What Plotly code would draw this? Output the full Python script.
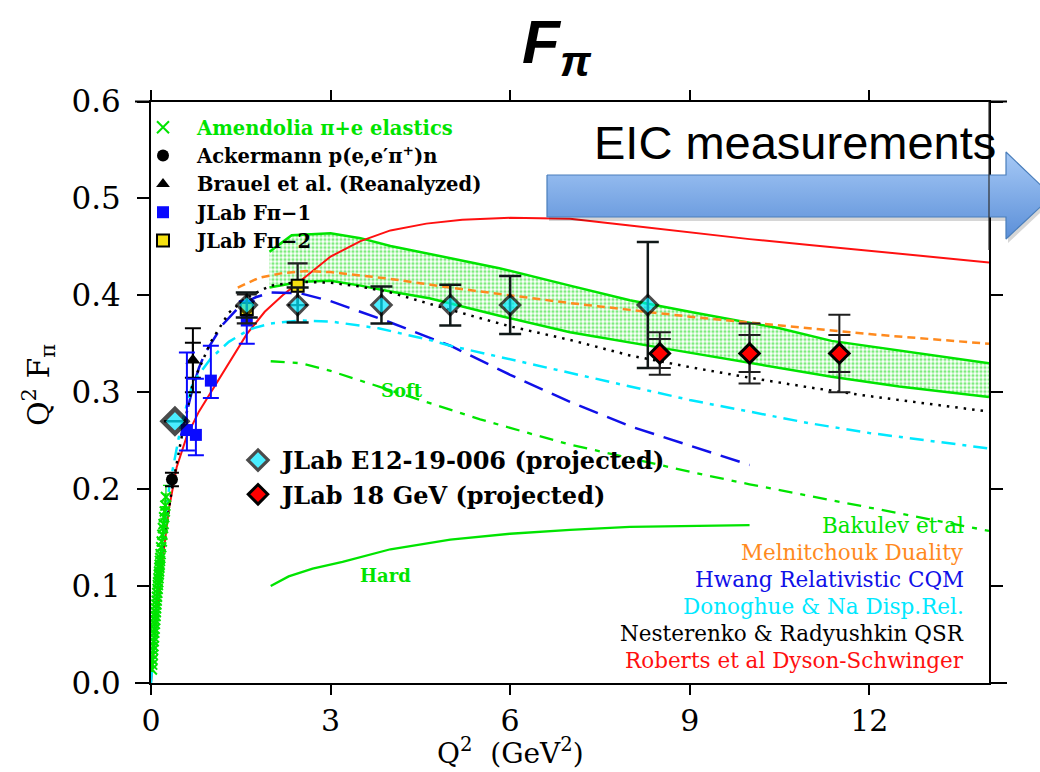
import plotly.graph_objects as go

# ---------------- data ----------------
# Amendolia pi+e elastic scattering
am_q2 = [0.015, 0.02, 0.025, 0.03, 0.035, 0.04, 0.045, 0.05, 0.055, 0.06,
         0.065, 0.07, 0.075, 0.08, 0.085, 0.09, 0.095, 0.10, 0.105, 0.11,
         0.115, 0.12, 0.125, 0.13, 0.135, 0.14, 0.145, 0.15, 0.155, 0.16,
         0.17, 0.18, 0.19, 0.20, 0.21, 0.22, 0.23, 0.24, 0.25]
am_val = [0.014, 0.019, 0.024, 0.029, 0.034, 0.038, 0.043, 0.047, 0.052, 0.056,
          0.061, 0.065, 0.069, 0.073, 0.077, 0.081, 0.085, 0.089, 0.093, 0.097,
          0.101, 0.104, 0.108, 0.112, 0.115, 0.119, 0.122, 0.126, 0.129, 0.133,
          0.140, 0.146, 0.153, 0.160, 0.164, 0.171, 0.177, 0.183, 0.192]
am_err = [0.002, 0.002, 0.002, 0.003, 0.003, 0.003, 0.003, 0.003, 0.004, 0.004,
          0.004, 0.004, 0.004, 0.005, 0.005, 0.005, 0.005, 0.005, 0.006, 0.006,
          0.006, 0.006, 0.006, 0.007, 0.007, 0.007, 0.007, 0.008, 0.008, 0.008,
          0.008, 0.009, 0.009, 0.010, 0.010, 0.011, 0.011, 0.012, 0.012]

# Ackermann p(e,e'pi+)n
ack_q2 = [0.35]
ack_val = [0.210]
ack_err = [0.007]

# Brauel et al. (reanalyzed)
br_q2 = [0.70]
br_val = [0.333]
br_err_outer = [0.033]
br_err_inner = [0.018]

# JLab Fpi-1
f1_q2 = [0.60, 0.75, 1.00, 1.60]
f1_val = [0.261, 0.256, 0.312, 0.374]
f1_err_up = [0.080, 0.058, 0.036, 0.020]
f1_err_dn = [0.021, 0.021, 0.018, 0.024]

# JLab Fpi-2
f2_q2 = [1.60, 2.45]
f2_val = [0.386, 0.410]
f2_err_up = [0.015, 0.023]
f2_err_dn = [0.015, 0.020]

# JLab E12-19-006 projections
e12_q2 = [0.40, 1.60, 2.45, 3.85, 5.00, 6.00, 8.30]
e12_val = [0.270, 0.390, 0.390, 0.390, 0.390, 0.390, 0.390]
e12_err = [0.000, 0.013, 0.018, 0.019, 0.021, 0.030, 0.065]

# JLab 18 GeV projections
g18_q2 = [8.50, 10.00, 11.50]
g18_val = [0.340, 0.340, 0.340]
g18_err_outer = [0.022, 0.031, 0.040]
g18_err_inner = [0.015, 0.019, 0.019]

# Theory curves
dse_q2 = [0, 0.1, 0.2, 0.3, 0.43, 0.6, 0.8, 1.0, 1.3, 1.6, 1.9, 2.2, 2.5, 3.0,
          3.5, 4.0, 4.6, 5.2, 6.0, 7.0, 8.0, 9.0, 10.0, 11.0, 12.0, 13.0, 14.0]
dse_val = [0, 0.070, 0.130, 0.180, 0.223, 0.255, 0.280, 0.300, 0.330, 0.360,
           0.383, 0.400, 0.415, 0.440, 0.456, 0.467, 0.474, 0.478, 0.480, 0.479,
           0.472, 0.465, 0.458, 0.452, 0.446, 0.440, 0.434]

mel_q2 = [1.45, 1.8, 2.2, 2.6, 3.0, 4.0, 5.0, 6.0, 7.0, 8.0, 9.0, 10.0, 11.0,
          12.0, 13.0, 14.0]
mel_val = [0.408, 0.418, 0.423, 0.425, 0.424, 0.417, 0.408, 0.400, 0.392,
           0.385, 0.378, 0.372, 0.366, 0.360, 0.355, 0.350]

hw_q2 = [0.5, 0.6, 0.7, 0.8, 0.9, 1.0, 1.2, 1.5, 1.75, 2.0, 2.5, 3.0, 3.5, 4.0,
         5.0, 6.0, 7.0, 8.0, 9.0, 10.0]
hw_val = [0.255, 0.280, 0.305, 0.325, 0.340, 0.350, 0.370, 0.390, 0.398, 0.403,
          0.402, 0.394, 0.383, 0.372, 0.348, 0.318, 0.290, 0.265, 0.245, 0.225]

dn_q2 = [0, 0.1, 0.2, 0.3, 0.5, 0.7, 1.0, 1.3, 1.65, 2.0, 2.5, 3.0, 3.8, 4.65,
         5.0, 6.0, 7.0, 8.0, 9.0, 10.0, 11.0, 12.0, 13.0, 14.0]
dn_val = [0, 0.080, 0.145, 0.200, 0.265, 0.310, 0.335, 0.352, 0.365, 0.371,
          0.374, 0.373, 0.366, 0.354, 0.348, 0.334, 0.320, 0.306, 0.292, 0.280,
          0.268, 0.258, 0.250, 0.242]

nr_q2 = [0.2, 0.35, 0.5, 0.7, 1.0, 1.3, 1.6, 2.0, 2.5, 3.0, 3.5, 4.0, 5.0, 6.0,
         7.0, 8.0, 9.0, 10.0, 11.0, 12.0, 13.0, 14.0]
nr_val = [0.140, 0.200, 0.250, 0.310, 0.352, 0.382, 0.398, 0.410, 0.414, 0.413,
          0.409, 0.403, 0.385, 0.368, 0.354, 0.338, 0.326, 0.315, 0.305, 0.296,
          0.288, 0.280]

bk_up_q2 = [1.98, 2.35, 3.0, 3.5, 4.0, 4.65, 5.82, 7.0, 8.0, 9.0, 9.7, 10.5,
            11.37, 12.5, 14.0]
bk_up_val = [0.445, 0.462, 0.464, 0.459, 0.451, 0.443, 0.428, 0.410, 0.395,
             0.383, 0.375, 0.366, 0.353, 0.343, 0.330]
bk_lo_q2 = [1.98, 2.5, 3.0, 3.5, 4.0, 4.65, 5.82, 7.0, 8.6, 10.0, 11.37, 12.5,
            14.0]
bk_lo_val = [0.408, 0.414, 0.415, 0.410, 0.404, 0.397, 0.379, 0.362, 0.345,
             0.330, 0.316, 0.306, 0.295]

soft_q2 = [2.0, 2.5, 3.0, 3.5, 4.0, 4.65, 5.5, 6.3, 7.0, 8.0, 9.0, 10.0, 11.0,
           12.0, 13.0, 14.0]
soft_val = [0.332, 0.330, 0.322, 0.312, 0.302, 0.289, 0.272, 0.258, 0.246,
            0.232, 0.218, 0.205, 0.193, 0.181, 0.169, 0.157]

hard_q2 = [2.0, 2.3, 2.7, 3.2, 4.0, 5.0, 6.0, 7.0, 8.0, 9.0, 10.0]
hard_val = [0.100, 0.110, 0.118, 0.125, 0.138, 0.148, 0.154, 0.158, 0.161,
            0.162, 0.163]

x_ticks = [0, 3, 6, 9, 12]

# ---------------- styling ----------------
W, H = 1040, 772
GREEN = "#00e400"
ORANGE = "#ff8a1e"
BLUE = "#1010e8"
CYAN = "#00e8ff"
RED = "#ff1010"
SERIF = "DejaVu Serif"
ERR_DARK = "#101818"

# plot box in pixels
BOX_L, BOX_R, BOX_T, BOX_B = 151, 989, 101.5, 683

fig = go.Figure()

# Bakulev et al. band
fig.add_trace(go.Scatter(
    x=bk_up_q2 + bk_lo_q2[::-1], y=bk_up_val + bk_lo_val[::-1],
    mode="lines", fill="toself", line=dict(width=0, color=GREEN),
    fillcolor="rgba(0,0,0,0)",
    fillpattern=dict(shape=".", fgcolor="#00d800", bgcolor="white", size=4,
                     solidity=0.5),
    showlegend=False, hoverinfo="skip"))
for xs, ys in [(bk_up_q2, bk_up_val), (bk_lo_q2, bk_lo_val)]:
    fig.add_trace(go.Scatter(x=xs, y=ys, mode="lines",
                             line=dict(color=GREEN, width=2.5),
                             showlegend=False))

curves = [
    (soft_q2, soft_val, GREEN, "14px,8px,5px,8px", 2.3),
    (hard_q2, hard_val, GREEN, "solid", 2.3),
    (dse_q2, dse_val, RED, "solid", 2),
    (mel_q2, mel_val, ORANGE, "8px,5px", 2.5),
    (hw_q2, hw_val, BLUE, "20px,10px", 2.5),
    (dn_q2, dn_val, CYAN, "14px,7px,4px,7px", 2.5),
    (nr_q2, nr_val, "black", "2.5px,6px", 2.5),
]
for xs, ys, col, dash, w in curves:
    fig.add_trace(go.Scatter(x=xs, y=ys, mode="lines",
                             line=dict(color=col, width=w, dash=dash),
                             showlegend=False))

# measured data
fig.add_trace(go.Scatter(
    x=am_q2, y=am_val, mode="markers", legend="legend",
    name=f'<span style="color:{GREEN}">Amendolia π+e elastics</span>',
    marker=dict(symbol="x-thin", size=10, line=dict(color=GREEN, width=2)),
    error_y=dict(type="data", array=am_err, color=GREEN, thickness=1.2, width=3)))
fig.add_trace(go.Scatter(
    x=ack_q2, y=ack_val, mode="markers", legend="legend",
    name="Ackermann p(e,e′π<sup>+</sup>)n",
    marker=dict(symbol="circle", size=12, color="black"),
    error_y=dict(type="data", array=ack_err, color="black", thickness=2, width=7)))
fig.add_trace(go.Scatter(
    x=br_q2, y=br_val, mode="markers", showlegend=False,
    marker=dict(size=1, color="rgba(0,0,0,0)"),
    error_y=dict(type="data", array=br_err_inner, color="black", thickness=2,
                 width=8)))
fig.add_trace(go.Scatter(
    x=br_q2, y=br_val, mode="markers", legend="legend",
    name="Brauel et al. (Reanalyzed)",
    marker=dict(symbol="triangle-up", size=13, color="black"),
    error_y=dict(type="data", array=br_err_outer, color="black", thickness=2,
                 width=8)))
fig.add_trace(go.Scatter(
    x=f1_q2, y=f1_val, mode="markers", legend="legend",
    name="JLab Fπ−1",
    marker=dict(symbol="square", size=12, color="#0a0aff"),
    error_y=dict(type="data", array=f1_err_up, arrayminus=f1_err_dn,
                 color="#0a0aff", thickness=2, width=8)))
fig.add_trace(go.Scatter(
    x=f2_q2, y=f2_val, mode="markers", legend="legend",
    name="JLab Fπ−2",
    marker=dict(symbol="square", size=12, color="#f5e010",
                line=dict(color="black", width=2)),
    error_y=dict(type="data", array=f2_err_up, arrayminus=f2_err_dn,
                 color="#202020", thickness=2.2, width=10)))

# projections
fig.add_trace(go.Scatter(
    x=e12_q2, y=e12_val, mode="markers", legend="legend2",
    name="JLab E12-19-006 (projected)",
    marker=dict(symbol="diamond", size=[19, 15, 15, 15, 15, 15, 15],
                color=CYAN,
                line=dict(color="#000000", width=[4.5, 3, 3, 3, 3, 3, 3])),
    error_y=dict(type="data", array=e12_err, color=ERR_DARK, thickness=2.5,
                 width=11)))
fig.add_trace(go.Scatter(
    x=g18_q2, y=g18_val, mode="markers", showlegend=False,
    marker=dict(size=1, color="rgba(0,0,0,0)"),
    error_y=dict(type="data", array=g18_err_outer, color="#202020",
                 thickness=2, width=11)))
fig.add_trace(go.Scatter(
    x=g18_q2, y=g18_val, mode="markers", legend="legend2",
    name="JLab 18 GeV (projected)",
    marker=dict(symbol="diamond", size=15, color="#ff0000",
                line=dict(color="#000000", width=3)),
    error_y=dict(type="data", array=g18_err_inner, color="#202020",
                 thickness=2, width=11)))

# EIC arrow, drawn on a full-figure pixel overlay
arrow_x = [547, 1006, 1006, 1052, 1006, 1006, 547, 547]
arrow_y = [175, 175, 152, 196, 239, 217, 217, 175]
fig.add_trace(go.Scatter(
    x=[v + 2 for v in arrow_x], y=[v + 4 for v in arrow_y],
    xaxis="x2", yaxis="y2", mode="lines", fill="toself",
    fillcolor="rgba(0,0,0,0.16)", line=dict(width=0),
    showlegend=False, hoverinfo="skip"))
fig.add_trace(go.Scatter(
    x=arrow_x, y=arrow_y, xaxis="x2", yaxis="y2", mode="lines", fill="toself",
    fillgradient=dict(type="vertical", start=152, stop=239,
                      colorscale=[[0, "#a6c9f6"], [1, "#5b8fd8"]]),
    line=dict(color="#4a7ebb", width=1.2),
    showlegend=False, hoverinfo="skip"))

common_axis = dict(showgrid=False, zeroline=False, showline=True, linewidth=2,
                   linecolor="black", mirror="ticks", ticks="outside",
                   tickwidth=2, tickcolor="black")

fig.update_layout(
    width=W, height=H,
    margin=dict(l=0, r=0, t=0, b=0),
    paper_bgcolor="white", plot_bgcolor="rgba(0,0,0,0)",
    xaxis=dict(domain=[BOX_L / W, BOX_R / W], range=[0, 14],
               tickvals=x_ticks, anchor="y", ticklabelstandoff=0, ticklen=10,
               tickfont=dict(family=SERIF, size=30, color="black"),
               automargin=False, **common_axis),
    yaxis=dict(domain=[1 - BOX_B / H, 1 - BOX_T / H], range=[0, 0.6],
               dtick=0.1, tickformat=".1f", anchor="x", ticklabelstandoff=10,
               ticklen=12, tickfont=dict(family=SERIF, size=31, color="black"),
               automargin=False, **common_axis),
    xaxis2=dict(domain=[0, 1], range=[0, W], visible=False, anchor="y2",
                fixedrange=True),
    yaxis2=dict(domain=[0, 1], range=[H, 0], visible=False, anchor="x2",
                fixedrange=True),
    legend=dict(x=129 / W, y=1 - 108 / H, xanchor="left", yanchor="top",
                font=dict(family=SERIF, size=19.5, weight="bold", color="black"),
                itemwidth=58, itemsizing="constant", bgcolor="rgba(0,0,0,0)",
                tracegroupgap=0, traceorder="normal"),
    legend2=dict(x=234 / W, y=1 - 438 / H, xanchor="left", yanchor="top",
                 font=dict(family=SERIF, size=24, weight="bold", color="black"),
                 itemwidth=38, bgcolor="rgba(0,0,0,0)", tracegroupgap=0,
                 traceorder="normal"),
    showlegend=True,
)

annotations = [
    dict(text="Soft", x=4.2, y=0.302),
    dict(text="Hard", x=3.92, y=0.111),
]
for a in annotations:
    a.update(xref="x", yref="y", showarrow=False, xanchor="center",
             yanchor="middle",
             font=dict(color=GREEN, size=18, family=SERIF, weight="bold"))
    fig.add_annotation(**a)

theory_labels = [
    ("Bakulev et al", GREEN),
    ("Melnitchouk Duality", ORANGE),
    ("Hwang Relativistic CQM", BLUE),
    ("Donoghue & Na Disp.Rel.", CYAN),
    ("Nesterenko & Radyushkin QSR", "black"),
    ("Roberts et al Dyson-Schwinger", RED),
]
for i, (txt, col) in enumerate(theory_labels):
    fig.add_annotation(text=txt, xref="paper", yref="paper",
                       x=966 / W, y=1 - (525 + 27 * i) / H,
                       xanchor="right", yanchor="middle", showarrow=False,
                       font=dict(family=SERIF, size=21.5, color=col))

# axis titles
fig.add_annotation(text="Q<sup>2</sup>  (GeV<sup>2</sup>)", xref="paper", yref="paper",
                   x=510 / W, y=1 - 751 / H, xanchor="center", yanchor="middle",
                   showarrow=False,
                   font=dict(family=SERIF, size=28, color="black"))
fig.add_annotation(text="Q<sup>2</sup> F<sub>π</sub>", xref="paper", yref="paper",
                   x=38 / W, y=1 - 385 / H, xanchor="center", yanchor="middle",
                   showarrow=False, textangle=-90,
                   font=dict(family=SERIF, size=30, color="black"))

# headline and arrow label
fig.add_annotation(text="F<sub>π</sub>", xref="paper", yref="paper",
                   x=557 / W, y=1 - 46 / H, xanchor="center", yanchor="middle",
                   showarrow=False,
                   font=dict(family="Liberation Sans", size=62, color="black",
                             weight="bold", style="italic"))
fig.add_annotation(text="EIC measurements", xref="paper", yref="paper",
                   x=795 / W, y=1 - 142 / H, xanchor="center", yanchor="middle",
                   showarrow=False,
                   font=dict(family="Liberation Sans", size=47, color="black"))

# frame line over the arrow and the small axis-line overhangs
shapes = [
    dict(type="line", xref="paper", yref="paper", x0=BOX_R / W, x1=BOX_R / W,
         y0=1 - 250 / H, y1=1 - BOX_T / H, line=dict(color="#303030", width=1.2)),
]
for yy in (BOX_T, BOX_B):
    shapes.append(dict(type="line", xref="paper", yref="paper",
                       x0=BOX_R / W, x1=1007 / W, y0=1 - yy / H, y1=1 - yy / H,
                       line=dict(color="black", width=2)))
    shapes.append(dict(type="line", xref="paper", yref="paper",
                       x0=135 / W, x1=BOX_L / W, y0=1 - yy / H, y1=1 - yy / H,
                       line=dict(color="black", width=2)))
fig.update_layout(shapes=shapes)

fig.write_html("out.html")
